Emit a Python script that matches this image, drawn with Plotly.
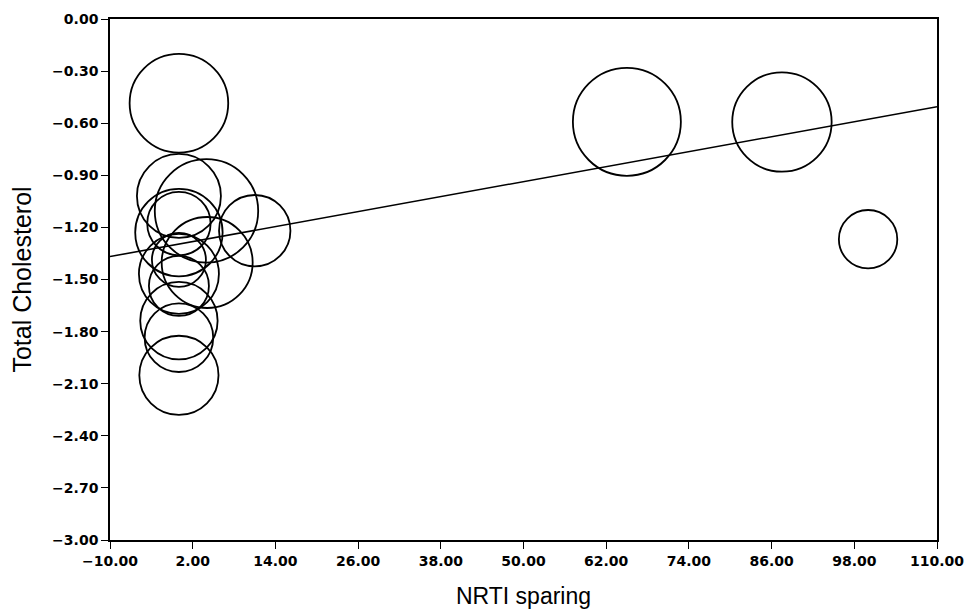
import plotly.graph_objects as go

# Study-level data (meta-regression bubble plot)
nrti_sparing = [0, 0, 4.0, 11.0, 0, 0, 4.1, 0, 0, 0, 0, 0, 0, 65.0, 87.5, 100.0]
total_chol = [-0.485, -1.019, -1.105, -1.219, -1.178, -1.230, -1.402, -1.387,
              -1.468, -1.537, -1.737, -1.835, -2.052, -0.592, -0.593, -1.268]
study_weight = [49.3, 42.0, 51.7, 35.7, 31.7, 43.7, 45.5, 27.0,
                40.0, 30.0, 38.7, 34.3, 39.6, 54.0, 49.7, 29.2]

# Fitted regression line endpoints
fit_x = [-10, 110]
fit_y = [-1.368, -0.505]

x_ticks = [-10, 2, 14, 26, 38, 50, 62, 74, 86, 98, 110]
y_ticks = [0.0, -0.3, -0.6, -0.9, -1.2, -1.5, -1.8, -2.1, -2.4, -2.7, -3.0]

fig = go.Figure()
fig.add_trace(go.Scatter(
    x=fit_x, y=fit_y, mode="lines",
    line=dict(color="black", width=1.5),
    showlegend=False, hoverinfo="skip",
))
fig.add_trace(go.Scatter(
    x=nrti_sparing, y=total_chol, mode="markers",
    marker=dict(size=study_weight, sizemode="diameter", sizeref=0.5,
                symbol="circle-open", color="black", opacity=1,
                line=dict(color="black", width=1.8)),
    showlegend=False,
))

tick_font = dict(family="DejaVu Sans", size=14, color="black", weight=700)
title_font = dict(family="Liberation Sans, Arial", size=23, color="black")

fig.update_layout(
    width=968, height=612,
    margin=dict(l=110, r=31, t=19, b=72),
    paper_bgcolor="white", plot_bgcolor="white",
    xaxis=dict(
        range=[-10, 110], tickvals=x_ticks, tickformat=".2f",
        ticks="outside", ticklen=7, tickwidth=1.4, tickcolor="black",
        showline=True, linecolor="black", linewidth=1.6, mirror=True,
        showgrid=False, zeroline=False, automargin=False,
        tickfont=tick_font,
        title=dict(text="NRTI sparing", font=title_font, standoff=20),
    ),
    yaxis=dict(
        range=[-3.0, 0.0], tickvals=y_ticks, tickformat=".2f",
        ticks="outside", ticklen=7, tickwidth=1.4, tickcolor="black",
        showline=True, linecolor="black", linewidth=1.6, mirror=True,
        showgrid=False, zeroline=False, automargin=False,
        tickfont=tick_font,
        title=dict(text="Total Cholesterol",
                   font=dict(family="Liberation Sans, Arial", size=25, color="black"),
                   standoff=13),
    ),
)

fig.write_html("out.html", config={"displayModeBar": False})

# remove the default 8px page margin so the 968x612 figure fills the window exactly
with open("out.html", encoding="utf-8") as f:
    html = f.read()
html = html.replace("<body>", '<body style="margin:0;overflow:hidden">', 1)
with open("out.html", "w", encoding="utf-8") as f:
    f.write(html)
